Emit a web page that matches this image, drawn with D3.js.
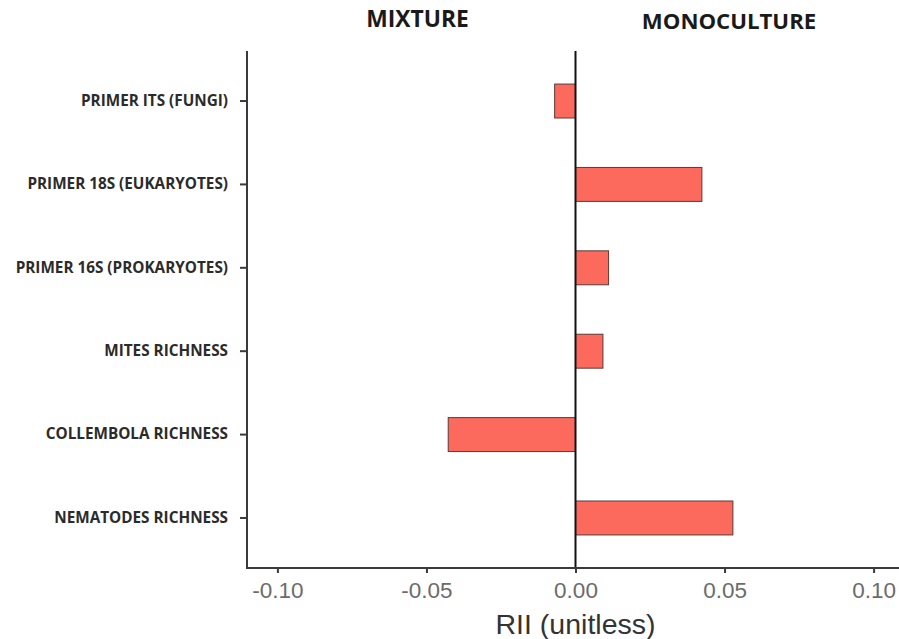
<!DOCTYPE html>
<html>
<head>
<meta charset="utf-8">
<script src="https://cdn.jsdelivr.net/npm/d3@7"></script>
<style>
  html, body { margin: 0; padding: 0; background: #ffffff; }
  svg { display: block; }
</style>
</head>
<body>
<div id="chart"></div>
<script>
// ---- Data ----
const categories = [
  "PRIMER ITS (FUNGI)",
  "PRIMER 18S (EUKARYOTES)",
  "PRIMER 16S (PROKARYOTES)",
  "MITES RICHNESS",
  "COLLEMBOLA RICHNESS",
  "NEMATODES RICHNESS"
];
const rii = [-0.0070, 0.0424, 0.0111, 0.0092, -0.0427, 0.0528];
const xTicks = [-0.10, -0.05, 0.00, 0.05, 0.10];
const sideLabels = ["MIXTURE", "MONOCULTURE"];
const sideLabelX = [-0.053, 0.0515];
const xTitle = "RII (unitless)";

// ---- Layout ----
const W = 899, H = 639;
const mLeft = 247, mRight = 904, mTop = 51, mBottom = 568;

const svg = d3.select("#chart").append("svg")
  .attr("width", W).attr("height", H);

const x = d3.scaleLinear().domain([-0.1102, 0.1102]).range([mLeft, mRight]);
const y = d3.scaleBand().domain(categories).range([mTop, mBottom])
  .paddingInner(0.593).paddingOuter(0.3965);

// bars
svg.append("g").selectAll("rect")
  .data(categories.map((c, i) => ({c, v: rii[i]})))
  .join("rect")
  .attr("x", d => x(Math.min(0, d.v)))
  .attr("width", d => Math.abs(x(d.v) - x(0)))
  .attr("y", d => y(d.c))
  .attr("height", y.bandwidth())
  .attr("fill", "#fb6a5c")
  .attr("stroke", "#5a3a36")
  .attr("stroke-width", 1);

// zero line
svg.append("line")
  .attr("x1", x(0)).attr("x2", x(0))
  .attr("y1", mTop).attr("y2", mBottom)
  .attr("stroke", "#111").attr("stroke-width", 2);

// x axis
const fmt = d => d3.format(".2f")(d).replace("\u2212", "-");
const xAxis = svg.append("g")
  .attr("transform", `translate(0,${mBottom})`)
  .call(d3.axisBottom(x).tickValues(xTicks).tickFormat(fmt).tickSizeOuter(0).tickSize(5).tickPadding(9));
xAxis.select(".domain").attr("stroke", "#3a3a3a").attr("stroke-width", 2)
  .attr("d", `M${mLeft - 1},0H${W}`);
xAxis.selectAll(".tick line").attr("stroke", "#3a3a3a").attr("stroke-width", 2);
xAxis.selectAll(".tick text")
  .attr("fill", "#6b6b6b")
  .style("font-family", "'Liberation Sans', Arial, sans-serif")
  .style("font-size", "22.5px");

// y axis
const yAxis = svg.append("g")
  .attr("transform", `translate(${mLeft},0)`)
  .call(d3.axisLeft(y).tickSizeOuter(0).tickSize(7).tickPadding(12));
yAxis.select(".domain").attr("stroke", "#3a3a3a").attr("stroke-width", 2)
  .attr("d", `M0,${mTop}V${mBottom + 1}`);
yAxis.selectAll(".tick line").attr("stroke", "#3a3a3a").attr("stroke-width", 2);
yAxis.selectAll(".tick text")
  .attr("fill", "#2b2b2b")
  .style("font-family", "'Open Sans', sans-serif")
  .style("font-weight", "bold")
  .style("font-size", "15.3px");

// x axis title
svg.append("text")
  .attr("x", x(0)).attr("y", 634)
  .attr("text-anchor", "middle")
  .attr("fill", "#333")
  .style("font-family", "'Liberation Sans', Arial, sans-serif")
  .style("font-size", "28.5px")
  .text(xTitle);

// side labels
svg.append("g").selectAll("text")
  .data(sideLabels)
  .join("text")
  .attr("x", (d, i) => x(sideLabelX[i]))
  .attr("y", (d, i) => i === 0 ? 27 : 29)
  .attr("text-anchor", "middle")
  .attr("fill", "#1a1a1a")
  .style("font-family", "'Open Sans', sans-serif")
  .style("font-weight", "bold")
  .style("font-size", (d, i) => i === 0 ? "22.8px" : "22.2px")
  .text(d => d);
</script>
</body>
</html>
